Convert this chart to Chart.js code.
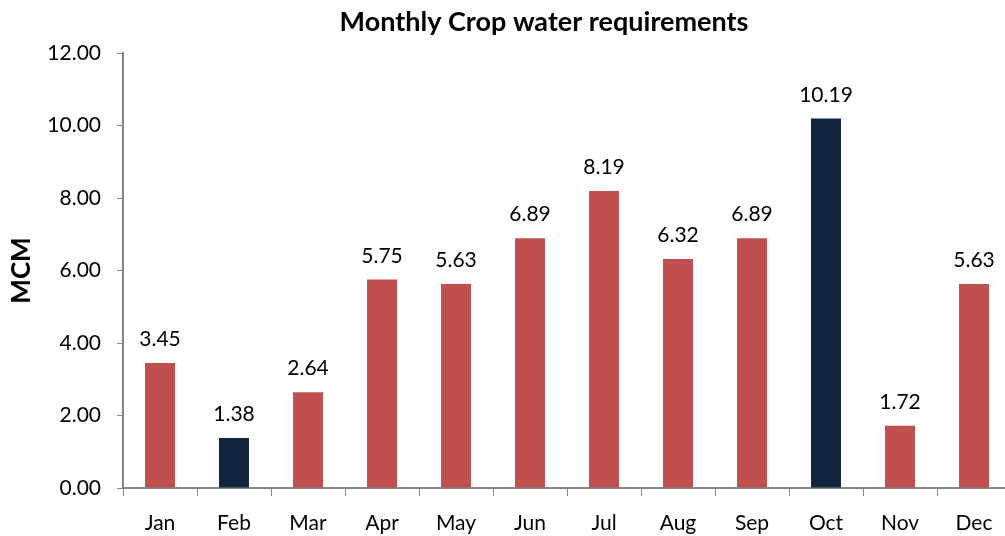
<!DOCTYPE html>
<html>
<head>
<meta charset="utf-8">
<script src="https://cdn.jsdelivr.net/npm/chart.js@4/dist/chart.umd.min.js"></script>
<style>
  html, body { margin: 0; padding: 0; background: #fff; overflow: hidden; }
  #wrap { width: 1015px; height: 536px; }
</style>
</head>
<body>
<div id="wrap"><canvas id="c" width="1015" height="536"></canvas></div>
<script>
const categories = ["Jan","Feb","Mar","Apr","May","Jun","Jul","Aug","Sep","Oct","Nov","Dec"];
const values = [3.45, 1.38, 2.64, 5.75, 5.63, 6.89, 8.19, 6.32, 6.89, 10.19, 1.72, 5.63];
const highlighted = ["Feb", "Oct"];
const yTicks = [0, 2, 4, 6, 8, 10, 12];
const titleText = "Monthly Crop water requirements";
const yTitle = "MCM";

const RED = "#C0504D";
const NAVY = "#11253F";
const AXIS = "#868686";
const FONT = "Lato, 'Open Sans', sans-serif";

const barColors = categories.map(c => highlighted.includes(c) ? NAVY : RED);

const titlePlugin = {
  id: "customTitle",
  afterDraw(chart) {
    const ctx = chart.ctx;
    ctx.save();
    ctx.font = "bold 27px " + FONT;
    ctx.fillStyle = "#000";
    ctx.textAlign = "center";
    ctx.textBaseline = "alphabetic";
    ctx.fillText(titleText, 544, 31);
    ctx.restore();
  }
};

const labelPlugin = {
  id: "valueLabels",
  afterDatasetsDraw(chart) {
    const ctx = chart.ctx;
    const meta = chart.getDatasetMeta(0);
    ctx.save();
    ctx.font = "21px " + FONT;
    ctx.fillStyle = "#000";
    ctx.textAlign = "center";
    ctx.textBaseline = "alphabetic";
    meta.data.forEach((bar, i) => {
      ctx.fillText(values[i].toFixed(2), bar.x, bar.y - 17);
    });
    ctx.restore();
  }
};

new Chart(document.getElementById("c"), {
  type: "bar",
  data: {
    labels: categories,
    datasets: [{
      data: values,
      backgroundColor: barColors,
      borderWidth: 0,
      categoryPercentage: 1.0,
      barPercentage: 0.405
    }]
  },
  options: {
    responsive: false,
    animation: false,
    layout: { padding: { top: 53, right: 4, left: 0, bottom: 0 } },
    plugins: {
      legend: { display: false },
      title: { display: false },
      tooltip: { enabled: false }
    },
    scales: {
      x: {
        grid: {
          display: true,
          drawOnChartArea: false,
          drawTicks: true,
          tickLength: 8,
          color: AXIS,
          offset: true
        },
        border: { display: true, color: AXIS, width: 2 },
        ticks: {
          color: "#000",
          font: { family: FONT, size: 21 },
          padding: 15,
          maxRotation: 0,
          autoSkip: false
        },
        afterFit(scale) { scale.height = 48; }
      },
      y: {
        min: 0,
        max: 12,
        afterBuildTicks(scale) { scale.ticks = yTicks.map(v => ({ value: v })); },
        grid: {
          display: true,
          drawOnChartArea: false,
          drawTicks: true,
          tickLength: 6,
          color: AXIS
        },
        border: { display: true, color: AXIS, width: 2 },
        ticks: {
          color: "#000",
          font: { family: FONT, size: 21 },
          padding: 16,
          callback: v => Number(v).toFixed(2)
        },
        title: {
          display: true,
          text: yTitle,
          color: "#000",
          font: { family: FONT, size: 26, weight: "bold" },
          padding: { top: 6, bottom: 0 }
        },
        afterFit(scale) { scale.width = 123; }
      }
    }
  },
  plugins: [titlePlugin, labelPlugin]
});
</script>
</body>
</html>
